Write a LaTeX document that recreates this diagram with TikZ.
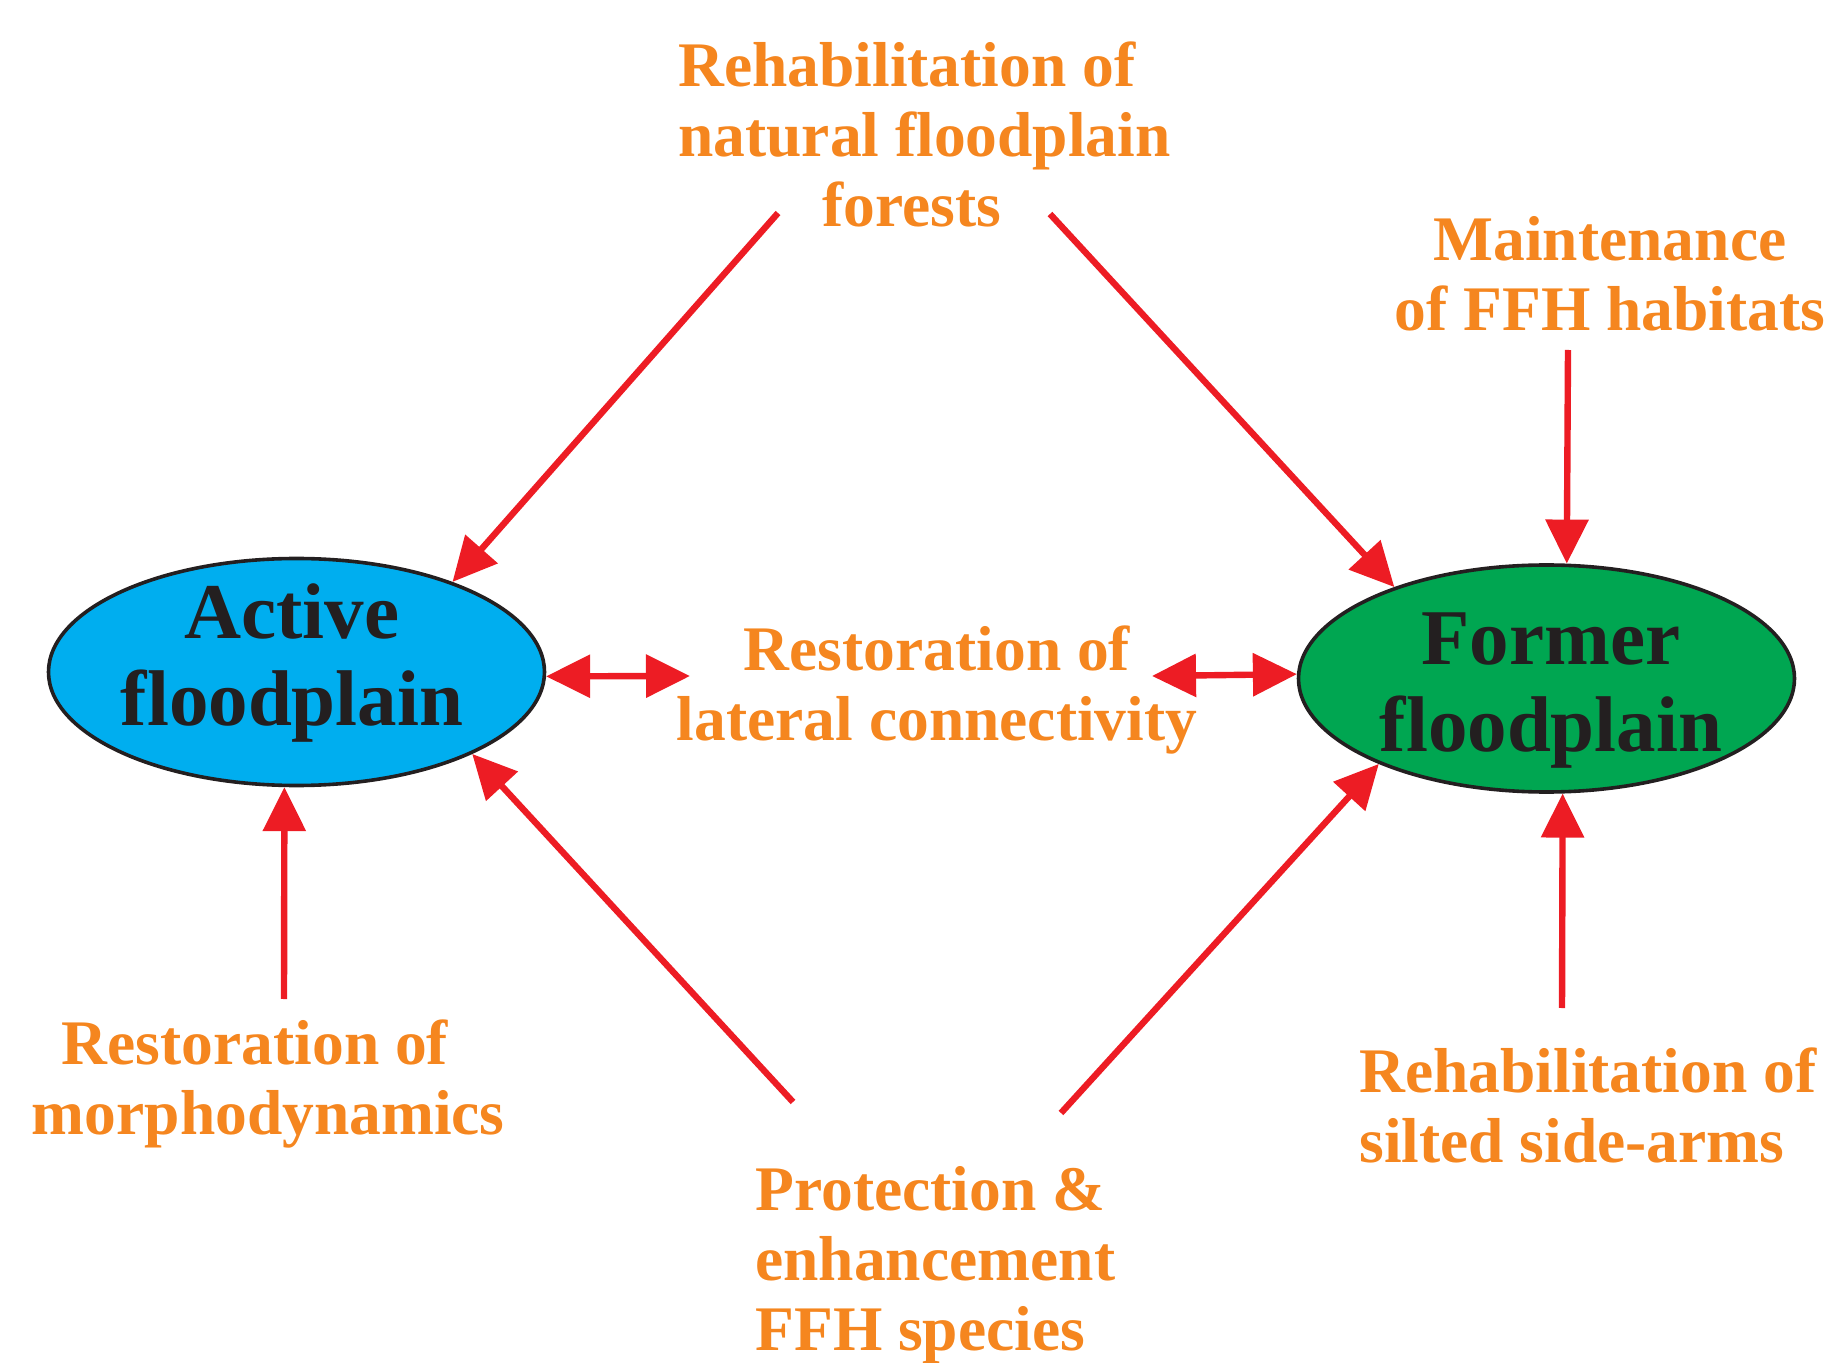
\documentclass[tikz,border=0pt]{standalone}
\usepackage{fontspec}
\setmainfont{Liberation Serif}
\usetikzlibrary{arrows.meta,shapes.geometric}
\definecolor{orangetxt}{RGB}{245,134,31}
\definecolor{arrowred}{RGB}{237,28,36}
\definecolor{activeblue}{RGB}{0,174,239}
\definecolor{formergreen}{RGB}{0,166,81}
\definecolor{darktxt}{RGB}{35,31,32}
\begin{document}
\begin{tikzpicture}[x=0.5pt,y=-0.5pt,
  lbl/.style={text=orangetxt, font=\bfseries\fontsize{31.75}{35}\selectfont, inner sep=0pt, align=center},
  biglbl/.style={text=darktxt, font=\bfseries\fontsize{39.5}{43.5}\selectfont, inner sep=0pt, align=center},
  plainoval/.style={ellipse, draw=darktxt, line width=1.8pt, minimum width=248pt, minimum height=113.5pt, inner sep=0pt},
  conn/.style={draw=arrowred, line width=3.2pt, -{Triangle[length=22pt,width=21pt]}},
  conntwo/.style={draw=arrowred, line width=3.2pt, {Triangle[length=22pt,width=21pt]}-{Triangle[length=22pt,width=21pt]}},
]
\useasboundingbox (0,0) rectangle (1827,1363);

% ellipses
\node[plainoval, fill=activeblue] (act) at (296.5,672) {};
\node[plainoval, fill=formergreen] (former) at (1546.5,678.5) {};
\node[biglbl] (actlabel) at (292,663) {Active\\floodplain};
\node[biglbl] (formerlabel) at (1551,691) {Former\\floodplain};

% texts
\node[lbl, align=left, anchor=west] (t1) at (678,134) {Rehabilitation of\\natural floodplain\\\hspace*{72pt}forests};
\node[lbl] (t2) at (1610,274) {Maintenance\\of FFH habitats};
\node[lbl] (t3) at (937,690) {Restoration of\\lateral connectivity};
\node[lbl, align=left, anchor=west] (t4) at (31.5,1084) {\hspace*{15pt}Restoration of\\morphodynamics};
\node[lbl, align=left, anchor=west] (t5) at (755,1265) {Protection \&\\enhancement\\FFH species};
\node[lbl, align=left, anchor=west] (t6) at (1359,1105) {Rehabilitation of\\silted side-arms};

% connector free ends
\coordinate (s1) at (778,213);
\coordinate (s2) at (1050,214);
\coordinate (s3) at (1568,350);
\coordinate (e4) at (690,676);
\coordinate (e5) at (1152,676);
\coordinate (s6) at (284,999);
\coordinate (s7) at (793,1102);
\coordinate (s8) at (1061,1113);
\coordinate (s9) at (1562,1008);

% connectors
\draw[conn] (s1) -- (act.30);
\draw[conn] (s2) -- (former.149);
\draw[conn] (s3) -- (former.80);
\draw[conntwo] (act.359) -- (e4);
\draw[conntwo] (e5) -- (former.179);
\draw[conn] (s6) -- (act.264);
\draw[conn] (s7) -- (act.335);
\draw[conn] (s8) -- (former.207);
\draw[conn] (s9) -- (former.278);
\end{tikzpicture}
\end{document}
